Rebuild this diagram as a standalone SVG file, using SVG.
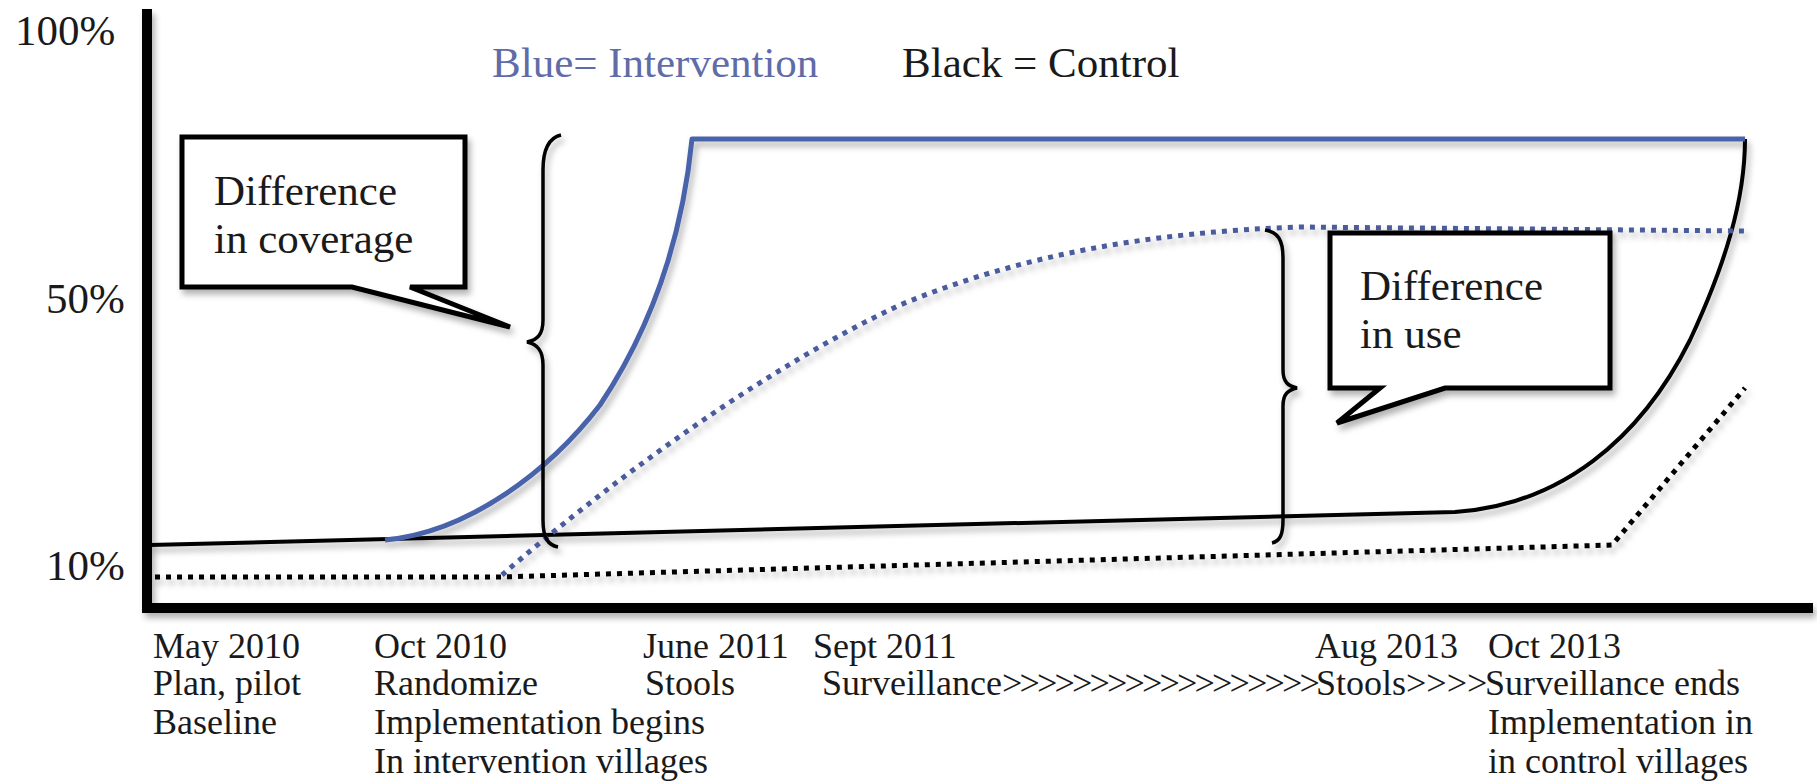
<svg xmlns="http://www.w3.org/2000/svg" width="1817" height="783" viewBox="0 0 1817 783">
<defs>
<filter id="sh" x="-5%" y="-5%" width="110%" height="120%">
<feDropShadow dx="3" dy="5" stdDeviation="3" flood-color="#000" flood-opacity="0.3"/>
</filter>
<style>
text{font-family:"Liberation Serif","DejaVu Serif",serif;fill:#1a1a1a}
.lab{font-size:43px}
.tl{font-size:36px}
.blue{fill:#5f6ca8}
.axis{stroke:#000;stroke-width:10;fill:none;stroke-linecap:square}
.bsol{stroke:#000;stroke-width:4;fill:none}
.usol{stroke:#4a63ab;stroke-width:5;fill:none;stroke-linejoin:round}
.bdot{stroke:#000;stroke-width:5;fill:none;stroke-dasharray:5 6}
.udot{stroke:#4b5b9c;stroke-width:5;fill:none;stroke-dasharray:5 6}
.call{fill:#fff;stroke:#000;stroke-width:5;stroke-linejoin:miter}
.brace{fill:none;stroke:#000;stroke-width:3.5}
</style>
</defs>
<rect width="1817" height="783" fill="#fff"/>

<g id="axes" filter="url(#sh)">
<line class="axis" x1="147" y1="14" x2="147" y2="608"/>
<line class="axis" x1="147" y1="608" x2="1808" y2="608"/>
</g>

<g id="y-labels" class="lab">
<text x="15" y="45">100%</text>
<text x="46" y="313">50%</text>
<text x="46" y="580">10%</text>
</g>

<g id="legend" class="lab">
<text x="492" y="77" class="blue">Blue= Intervention</text>
<text x="902" y="77">Black = Control</text>
</g>

<g id="connectors" filter="url(#sh)">
<path id="control-use" class="bdot" d="M155,577 L500,577 L1612,545 L1745,388"/>
<path id="control-coverage" class="bsol" d="M150,545 L1455,512 C1560,505 1640,440 1690,340 C1725,265 1745,200 1745,139"/>
<path id="intervention-use" class="udot" d="M502,575 C600,490 760,370 900,305 C1020,255 1150,232 1300,227 L1745,231"/>
<path id="intervention-coverage" class="usol" d="M385,540 C470,532 550,470 600,405 C650,330 682,240 692,139 L1745,139"/>
<path id="brace-coverage" class="brace" d="M561,135 C548,138 543,150 543,170 L543,320 C543,335 537,340 527,342 C537,344 543,350 543,365 L543,520 C543,538 548,545 558,547"/>
<path id="brace-use" class="brace" d="M1265,230 C1278,232 1283,240 1283,258 L1283,370 C1283,382 1288,386 1297,388 C1288,390 1283,394 1283,406 L1283,520 C1283,535 1280,541 1272,543"/>
</g>

<g id="callout-coverage">
<path class="call" filter="url(#sh)" d="M182,137 H465 V287 H410 L510,327 L352,287 H182 Z"/>
<text class="lab" x="214" y="205">Difference</text>
<text class="lab" x="214" y="253">in coverage</text>
</g>

<g id="callout-use">
<path class="call" filter="url(#sh)" d="M1330,233 H1610 V388 H1445 L1337,423 L1380,388 H1330 Z"/>
<text class="lab" x="1360" y="300">Difference</text>
<text class="lab" x="1360" y="348">in use</text>
</g>

<g id="timeline" class="tl">
<g id="t-may2010">
<text x="153" y="658">May 2010</text>
<text x="153" y="695">Plan, pilot</text>
<text x="153" y="734">Baseline</text>
</g>
<g id="t-oct2010">
<text x="374" y="658">Oct 2010</text>
<text x="374" y="695">Randomize</text>
<text x="374" y="734">Implementation begins</text>
<text x="374" y="773">In intervention villages</text>
</g>
<g id="t-june2011">
<text x="643" y="658">June 2011</text>
<text x="645" y="695">Stools</text>
</g>
<g id="t-sept2011">
<text x="813" y="658">Sept 2011</text>
<text y="695"><tspan x="822">Surveillance</tspan><tspan letter-spacing="-2.8">&gt;&gt;&gt;&gt;&gt;&gt;&gt;&gt;&gt;&gt;&gt;&gt;&gt;&gt;&gt;&gt;&gt;&gt;</tspan><tspan x="1316">Stools&gt;&gt;&gt;&gt;</tspan><tspan x="1485">Surveillance ends</tspan></text>
</g>
<g id="t-aug2013">
<text x="1315" y="658">Aug 2013</text>
</g>
<g id="t-oct2013">
<text x="1488" y="658">Oct 2013</text>
<text x="1488" y="734">Implementation in</text>
<text x="1488" y="773">in control villages</text>
</g>
</g>
</svg>
